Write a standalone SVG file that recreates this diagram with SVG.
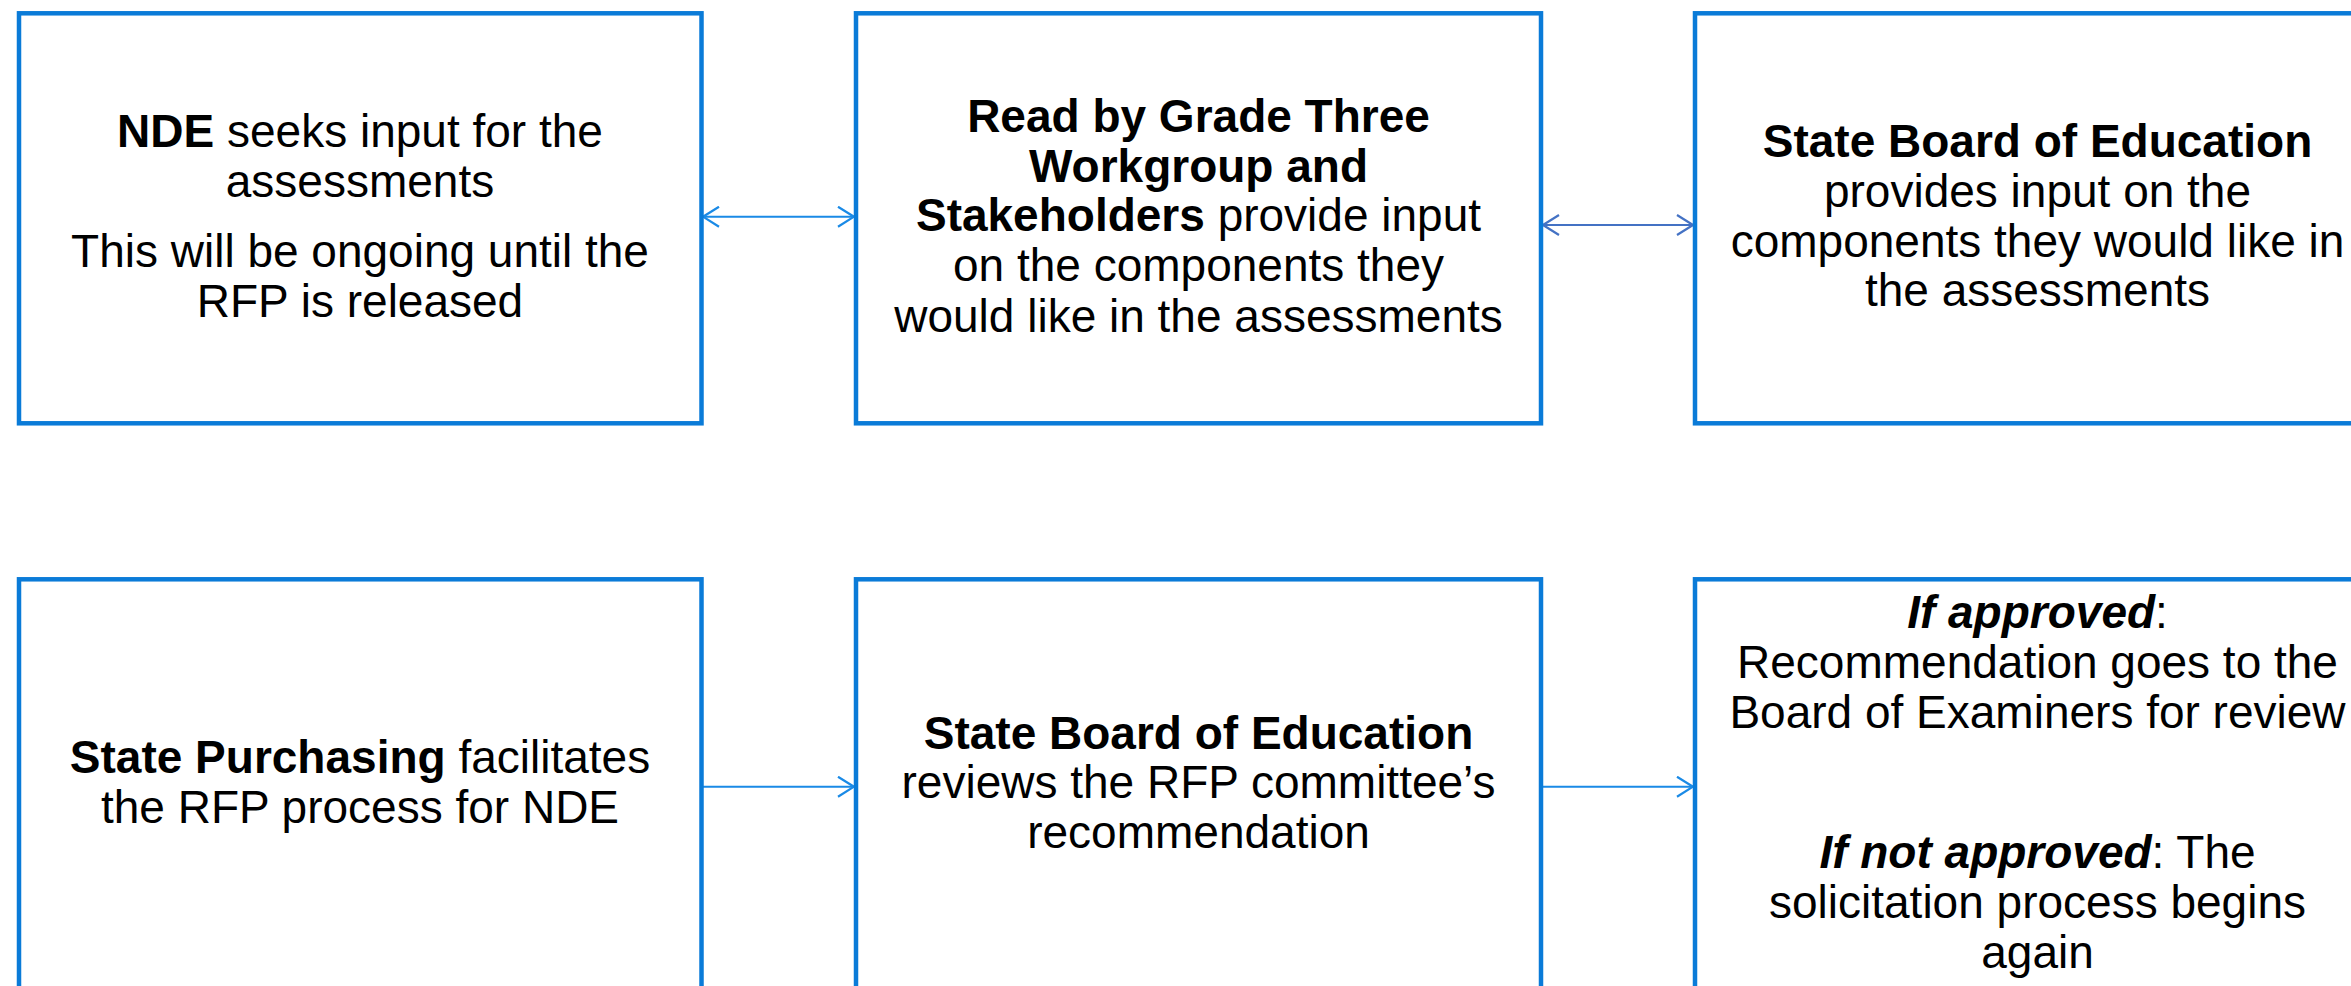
<svg xmlns="http://www.w3.org/2000/svg" width="2351" height="986" viewBox="0 0 2351 986">
<style>
.box{fill:#ffffff;stroke:#0A7BD8;stroke-width:4.5}
.t{font-family:"Liberation Sans",Arial,sans-serif;font-size:46px;fill:#000;text-anchor:middle}
.b{font-weight:bold}
.bi{font-weight:bold;font-style:italic}
.c1{fill:none;stroke:#1A8AE6;stroke-width:2}
.c2{fill:none;stroke:#4472C4;stroke-width:2}
</style>
<defs>
<marker id="ah1" viewBox="0 0 18 22" refX="17" refY="11" markerWidth="18" markerHeight="22" markerUnits="userSpaceOnUse" orient="auto-start-reverse">
<path d="M1,1 L17,11 L1,21" fill="none" stroke="#1A8AE6" stroke-width="2.2"/>
</marker>
<marker id="ah2" viewBox="0 0 18 22" refX="17" refY="11" markerWidth="18" markerHeight="22" markerUnits="userSpaceOnUse" orient="auto-start-reverse">
<path d="M1,1 L17,11 L1,21" fill="none" stroke="#4472C4" stroke-width="2.2"/>
</marker>
</defs>
<rect width="2351" height="986" fill="#ffffff"/>
<g id="connectors">
<line class="c1" x1="703" y1="216.7" x2="854" y2="216.7" marker-start="url(#ah1)" marker-end="url(#ah1)"/>
<line class="c2" x1="1543" y1="225" x2="1693" y2="225" marker-start="url(#ah2)" marker-end="url(#ah2)"/>
<line class="c1" x1="703" y1="786.7" x2="854" y2="786.7" marker-end="url(#ah1)"/>
<line class="c1" x1="1543" y1="786.7" x2="1693" y2="786.7" marker-end="url(#ah1)"/>
</g>
<g id="node-nde">
<rect class="box" x="19" y="13.3" width="682.5" height="410"/>
<text class="t" x="360" y="147"><tspan class="b">NDE</tspan> seeks input for the</text>
<text class="t" x="360" y="197">assessments</text>
<text class="t" x="360" y="267">This will be ongoing until the</text>
<text class="t" x="360" y="317">RFP is released</text>
</g>
<g id="node-read-by-grade-three">
<rect class="box" x="856" y="13.3" width="685" height="410"/>
<text class="t" x="1198.5" y="131.7"><tspan class="b">Read by Grade Three</tspan></text>
<text class="t" x="1198.5" y="181.7"><tspan class="b">Workgroup and</tspan></text>
<text class="t" x="1198.5" y="231"><tspan class="b">Stakeholders</tspan> provide input</text>
<text class="t" x="1198.5" y="281">on the components they</text>
<text class="t" x="1198.5" y="331.7">would like in the assessments</text>
</g>
<g id="node-state-board-input">
<rect class="box" x="1695" y="13.3" width="685" height="410"/>
<text class="t" x="2037.5" y="156.7"><tspan class="b">State Board of Education</tspan></text>
<text class="t" x="2037.5" y="206.7">provides input on the</text>
<text class="t" x="2037.5" y="256.7">components they would like in</text>
<text class="t" x="2037.5" y="305.5">the assessments</text>
</g>
<g id="node-state-purchasing">
<rect class="box" x="19" y="579.3" width="682.5" height="420"/>
<text class="t" x="360" y="773.3"><tspan class="b">State Purchasing</tspan> facilitates</text>
<text class="t" x="360" y="823.3">the RFP process for NDE</text>
</g>
<g id="node-state-board-review">
<rect class="box" x="856" y="579.3" width="685" height="420"/>
<text class="t" x="1198.5" y="749.3"><tspan class="b">State Board of Education</tspan></text>
<text class="t" x="1198.5" y="798.3">reviews the RFP committee’s</text>
<text class="t" x="1198.5" y="848.3">recommendation</text>
</g>
<g id="node-approval">
<rect class="box" x="1695" y="579.3" width="685" height="420"/>
<text class="t" x="2037.5" y="628.3"><tspan class="bi">If approved</tspan>:</text>
<text class="t" x="2037.5" y="678.3">Recommendation goes to the</text>
<text class="t" x="2037.5" y="728.3">Board of Examiners for review</text>
<text class="t" x="2037.5" y="868.3"><tspan class="bi">If not approved</tspan>: The</text>
<text class="t" x="2037.5" y="918.3">solicitation process begins</text>
<text class="t" x="2037.5" y="968.3">again</text>
</g>
</svg>
